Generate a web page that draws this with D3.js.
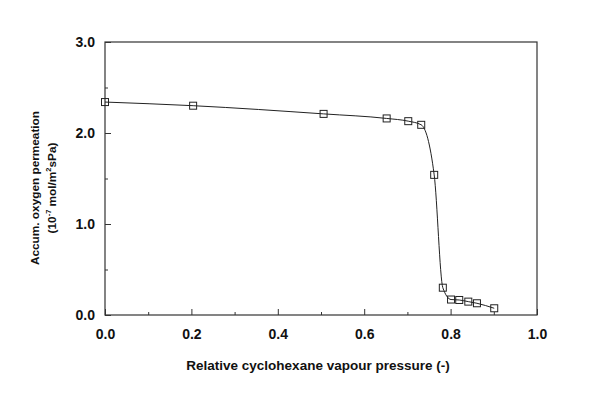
<!DOCTYPE html>
<html>
<head>
<meta charset="utf-8">
<script src="https://cdn.jsdelivr.net/npm/d3@7"></script>
<style>
  body { margin: 0; background: #fff; }
  text { font-family: "Liberation Sans", Arial, sans-serif; font-weight: bold; fill: #111; }
</style>
</head>
<body>
<svg id="chart" width="600" height="394"></svg>
<script>
// relative cyclohexane vapour pressure (-)
const pressure = [0.0, 0.204, 0.506, 0.652, 0.702, 0.732, 0.762, 0.782, 0.801, 0.820, 0.841, 0.861, 0.901];
// accumulated oxygen permeation (1e-7 mol/m2sPa)
const permeation = [2.34, 2.30, 2.21, 2.16, 2.13, 2.09, 1.54, 0.30, 0.17, 0.165, 0.147, 0.129, 0.074];

const xTicks = [0, 0.2, 0.4, 0.6, 0.8, 1.0];
const xMinor = [0.1, 0.3, 0.5, 0.7, 0.9];
const yTicks = [0, 1, 2, 3];
const yMinor = [0.5, 1.5, 2.5];

const svg = d3.select('#chart');
const margin = {left: 105, right: 63, top: 42, bottom: 79};
const width = 600 - margin.left - margin.right;
const height = 394 - margin.top - margin.bottom;

const x = d3.scaleLinear().domain([0, 1]).range([0, width]);
const y = d3.scaleLinear().domain([0, 3]).range([height, 0]);

const g = svg.append('g').attr('transform', `translate(${margin.left},${margin.top})`);

// frame
g.append('rect')
    .attr('width', width)
    .attr('height', height)
    .attr('fill', 'none')
    .attr('stroke', '#333')
    .attr('stroke-width', 1.2);

// ticks point inward
g.append('g')
    .attr('transform', `translate(0,${height})`)
    .call(d3.axisBottom(x).tickValues(xTicks).tickSizeInner(-6).tickSizeOuter(0).tickPadding(14)
        .tickFormat(d3.format('.1f')));
g.append('g')
    .attr('transform', `translate(0,${height})`)
    .call(d3.axisBottom(x).tickValues(xMinor).tickSizeInner(-3).tickSizeOuter(0).tickFormat(''));

g.append('g')
    .call(d3.axisLeft(y).tickValues(yTicks).tickSizeInner(-6).tickSizeOuter(0).tickPadding(10)
        .tickFormat(d3.format('.1f')));
g.append('g')
    .call(d3.axisLeft(y).tickValues(yMinor).tickSizeInner(-3).tickSizeOuter(0).tickFormat(''));

g.selectAll('.domain').remove();
g.selectAll('.tick line').attr('stroke', '#333');
g.selectAll('.tick text')
    .attr('font-size', 14)
    .attr('font-family', '"Liberation Sans", Arial, sans-serif')
    .attr('font-weight', 'bold')
    .attr('fill', '#111');

// data curve
const points = pressure.map((p, i) => [p, permeation[i]]);
const line = d3.line()
    .x((d) => x(d[0]))
    .y((d) => y(d[1]))
    .curve(d3.curveMonotoneX);

g.append('path')
    .datum(points)
    .attr('d', line)
    .attr('fill', 'none')
    .attr('stroke', '#222')
    .attr('stroke-width', 1);

const s = 7;
g.selectAll('rect.marker')
    .data(points)
    .enter()
  .append('rect')
    .classed('marker', true)
    .attr('x', (d) => x(d[0]) - s / 2)
    .attr('y', (d) => y(d[1]) - s / 2)
    .attr('width', s)
    .attr('height', s)
    .attr('fill', 'none')
    .attr('stroke', '#222')
    .attr('stroke-width', 1);

// axis titles
svg.append('text')
    .attr('x', margin.left + width / 2 - 3)
    .attr('y', 370)
    .attr('text-anchor', 'middle')
    .attr('font-size', 13.5)
    .text('Relative cyclohexane vapour pressure (-)');

const yTitle = svg.append('text')
    .attr('transform', 'translate(39,188) rotate(-90)')
    .attr('text-anchor', 'middle')
    .attr('font-size', 11.8);
yTitle.append('tspan').attr('x', 0).attr('dy', 0).text('Accum. oxygen permeation');
const line2 = yTitle.append('tspan').attr('x', 0).attr('dy', 17);
line2.append('tspan').text('(10');
line2.append('tspan').attr('font-size', 7.5).attr('dy', -5).text('-7');
line2.append('tspan').attr('dy', 5).text(' mol/m');
line2.append('tspan').attr('font-size', 7.5).attr('dy', -5).text('2');
line2.append('tspan').attr('dy', 5).text('sPa)');
</script>
</body>
</html>
